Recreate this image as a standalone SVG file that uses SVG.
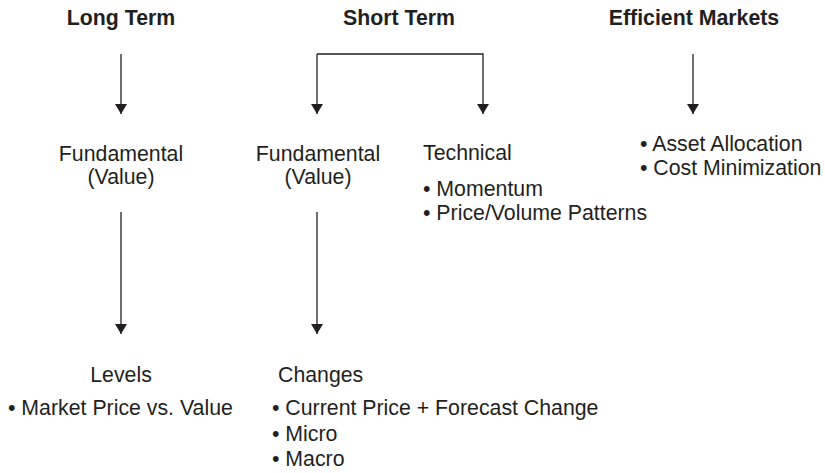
<svg xmlns="http://www.w3.org/2000/svg" width="825" height="473" viewBox="0 0 825 473">
<defs>
<marker id="ah" viewBox="0 0 10 12" refX="10" refY="6" markerWidth="10" markerHeight="12" markerUnits="userSpaceOnUse" orient="auto">
<path d="M0,0 L10,6 L0,12 Z" fill="#231f20"/>
</marker>
<style>
text{font-family:"Liberation Sans",Arial,sans-serif;font-size:21.3px;fill:#231f20}
.h{font-weight:bold}
.c{text-anchor:middle}
.ln{fill:none;stroke:#231f20;stroke-width:1.3}
</style>
</defs>
<rect width="825" height="473" fill="#fff"/>
<g id="long-term"><text class="h c" x="121" y="25">Long Term</text></g>
<g id="short-term"><text class="h c" x="399" y="25">Short Term</text></g>
<g id="efficient-markets"><text class="h c" x="694" y="25">Efficient Markets</text></g>
<g id="fundamental-long"><text class="c" x="121" y="161">Fundamental</text><text class="c" x="121" y="184">(Value)</text></g>
<g id="fundamental-short"><text class="c" x="318" y="161">Fundamental</text><text class="c" x="318" y="184">(Value)</text></g>
<g id="technical"><text x="423" y="160">Technical</text><text x="423" y="196">• Momentum</text><text x="423" y="220">• Price/Volume Patterns</text></g>
<g id="efficient-list"><text x="640" y="151">• Asset Allocation</text><text x="640" y="175">• Cost Minimization</text></g>
<g id="levels"><text class="c" x="121" y="382">Levels</text><text x="8" y="415">• Market Price vs. Value</text></g>
<g id="changes"><text x="278" y="382">Changes</text><text x="272" y="415">• Current Price + Forecast Change</text><text x="272" y="441">• Micro</text><text x="272" y="466">• Macro</text></g>
<g id="connectors">
<path class="ln" d="M121,54 V114" marker-end="url(#ah)"/>
<path class="ln" d="M317,54 H483 V114" marker-end="url(#ah)"/>
<path class="ln" d="M317,54 V114" marker-end="url(#ah)"/>
<path class="ln" d="M693,54 V114" marker-end="url(#ah)"/>
<path class="ln" d="M121,212 V334" marker-end="url(#ah)"/>
<path class="ln" d="M317,212 V334" marker-end="url(#ah)"/>
</g>
</svg>
